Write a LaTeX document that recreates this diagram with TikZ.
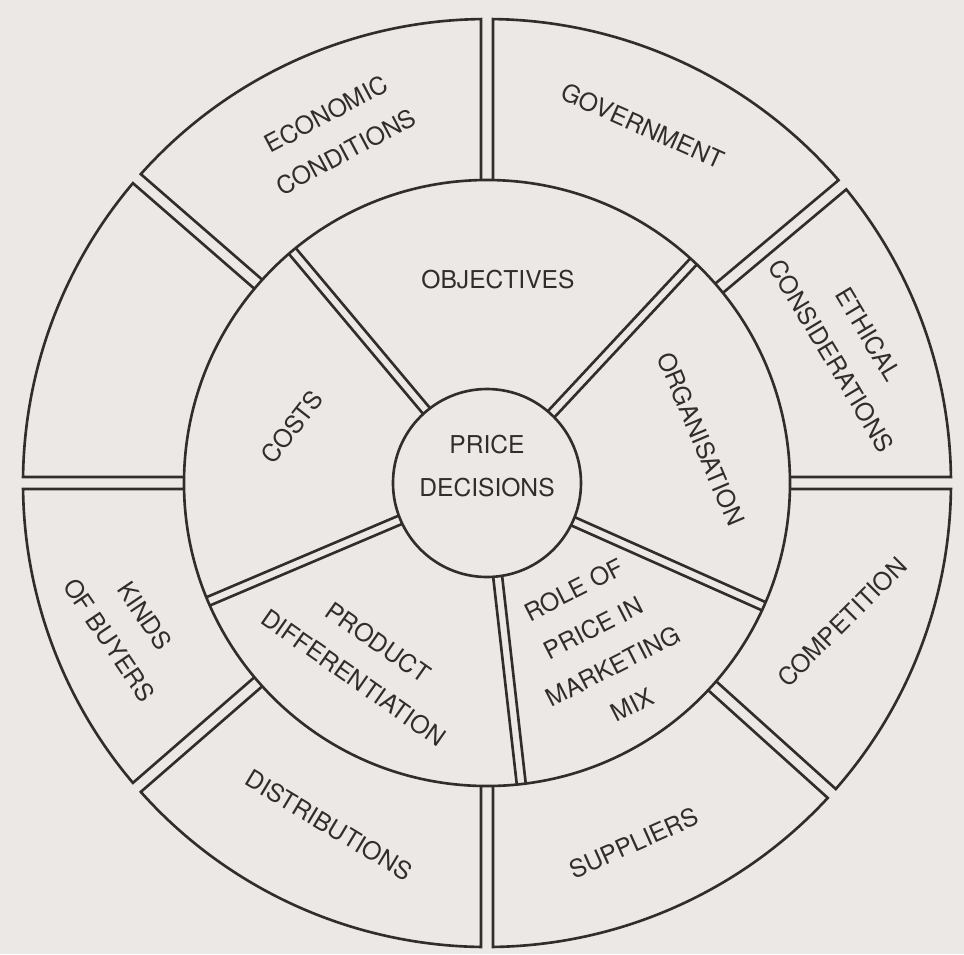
\documentclass[tikz,border=0pt]{standalone}
\usepackage{fontspec}
\setmainfont{TeX Gyre Heros}
\usepackage{xcolor}
\usepackage{tikz}
\definecolor{paper}{HTML}{ECE8E6}
\definecolor{ink}{HTML}{302E2B}
\tikzset{
  wheelLine/.style={draw=ink, line width=0.75pt},
  wheelLabel/.style={text=ink, align=center, inner sep=0pt,
    font=\fontsize{7}{12.2}\selectfont}
}

\begin{document}
\begin{tikzpicture}
  \fill[paper] (-4.87,-4.71) rectangle (4.77,4.83);

  \def\rOut{4.64}
  \def\rMid{3.03}
  \def\rIn{0.94}
  \def\gapOut{0.06}
  \def\gapMid{0.045}
  \coordinate (O) at (0,0);

  \draw[wheelLine] (O) circle (\rMid);
  \draw[wheelLine] (O) circle (\rIn);

  % outer segments
  \foreach \a/\b in {0/40,40/90,90/139,139/180,180/221,221/270,270/318,318/360} {
    \draw[wheelLine] ({\a+asin(\gapOut/\rMid)}:\rMid) -- ({\a+asin(\gapOut/\rOut)}:\rOut)
      arc[start angle={\a+asin(\gapOut/\rOut)}, end angle={\b-asin(\gapOut/\rOut)}, radius=\rOut]
      -- ({\b-asin(\gapOut/\rMid)}:\rMid);
  }

  % inner dividers
  \foreach \t in {47,130,203,276.5,336} {
    \draw[wheelLine] ({\t+asin(\gapMid/\rIn)}:\rIn) -- ({\t+asin(\gapMid/\rMid)}:\rMid);
    \draw[wheelLine] ({\t-asin(\gapMid/\rIn)}:\rIn) -- ({\t-asin(\gapMid/\rMid)}:\rMid);
  }

  \node[wheelLabel] (price) at (0,0.17) {PRICE\\DECISIONS};

  \node[wheelLabel] (objectives) at (0.11,2.03) {OBJECTIVES};
  \node[wheelLabel, rotate=-67] (organisation) at (2.14,0.44) {ORGANISATION};
  \node[wheelLabel, rotate=27] (role) at (1.16,-1.64) {ROLE OF\\PRICE IN\\MARKETING\\MIX};
  \node[wheelLabel, rotate=-35] (product) at (-1.21,-1.77) {PRODUCT\\DIFFERENTIATION};
  \node[wheelLabel, rotate=52] (costs) at (-1.95,0.56) {COSTS};

  \node[wheelLabel, rotate=28] (economic) at (-1.51,3.50) {ECONOMIC\\CONDITIONS};
  \node[wheelLabel, rotate=-24] (government) at (1.56,3.57) {GOVERNMENT};
  \node[wheelLabel, rotate=-59] (ethical) at (3.63,1.38) {ETHICAL\\CONSIDERATIONS};
  \node[wheelLabel, rotate=45] (competition) at (3.55,-1.39) {COMPETITION};
  \node[wheelLabel, rotate=24] (suppliers) at (1.47,-3.60) {SUPPLIERS};
  \node[wheelLabel, rotate=-31] (distributions) at (-1.58,-3.42) {DISTRIBUTIONS};
  \node[wheelLabel, rotate=-56] (buyers) at (-3.60,-1.45) {KINDS\\OF BUYERS};
\end{tikzpicture}
\end{document}
